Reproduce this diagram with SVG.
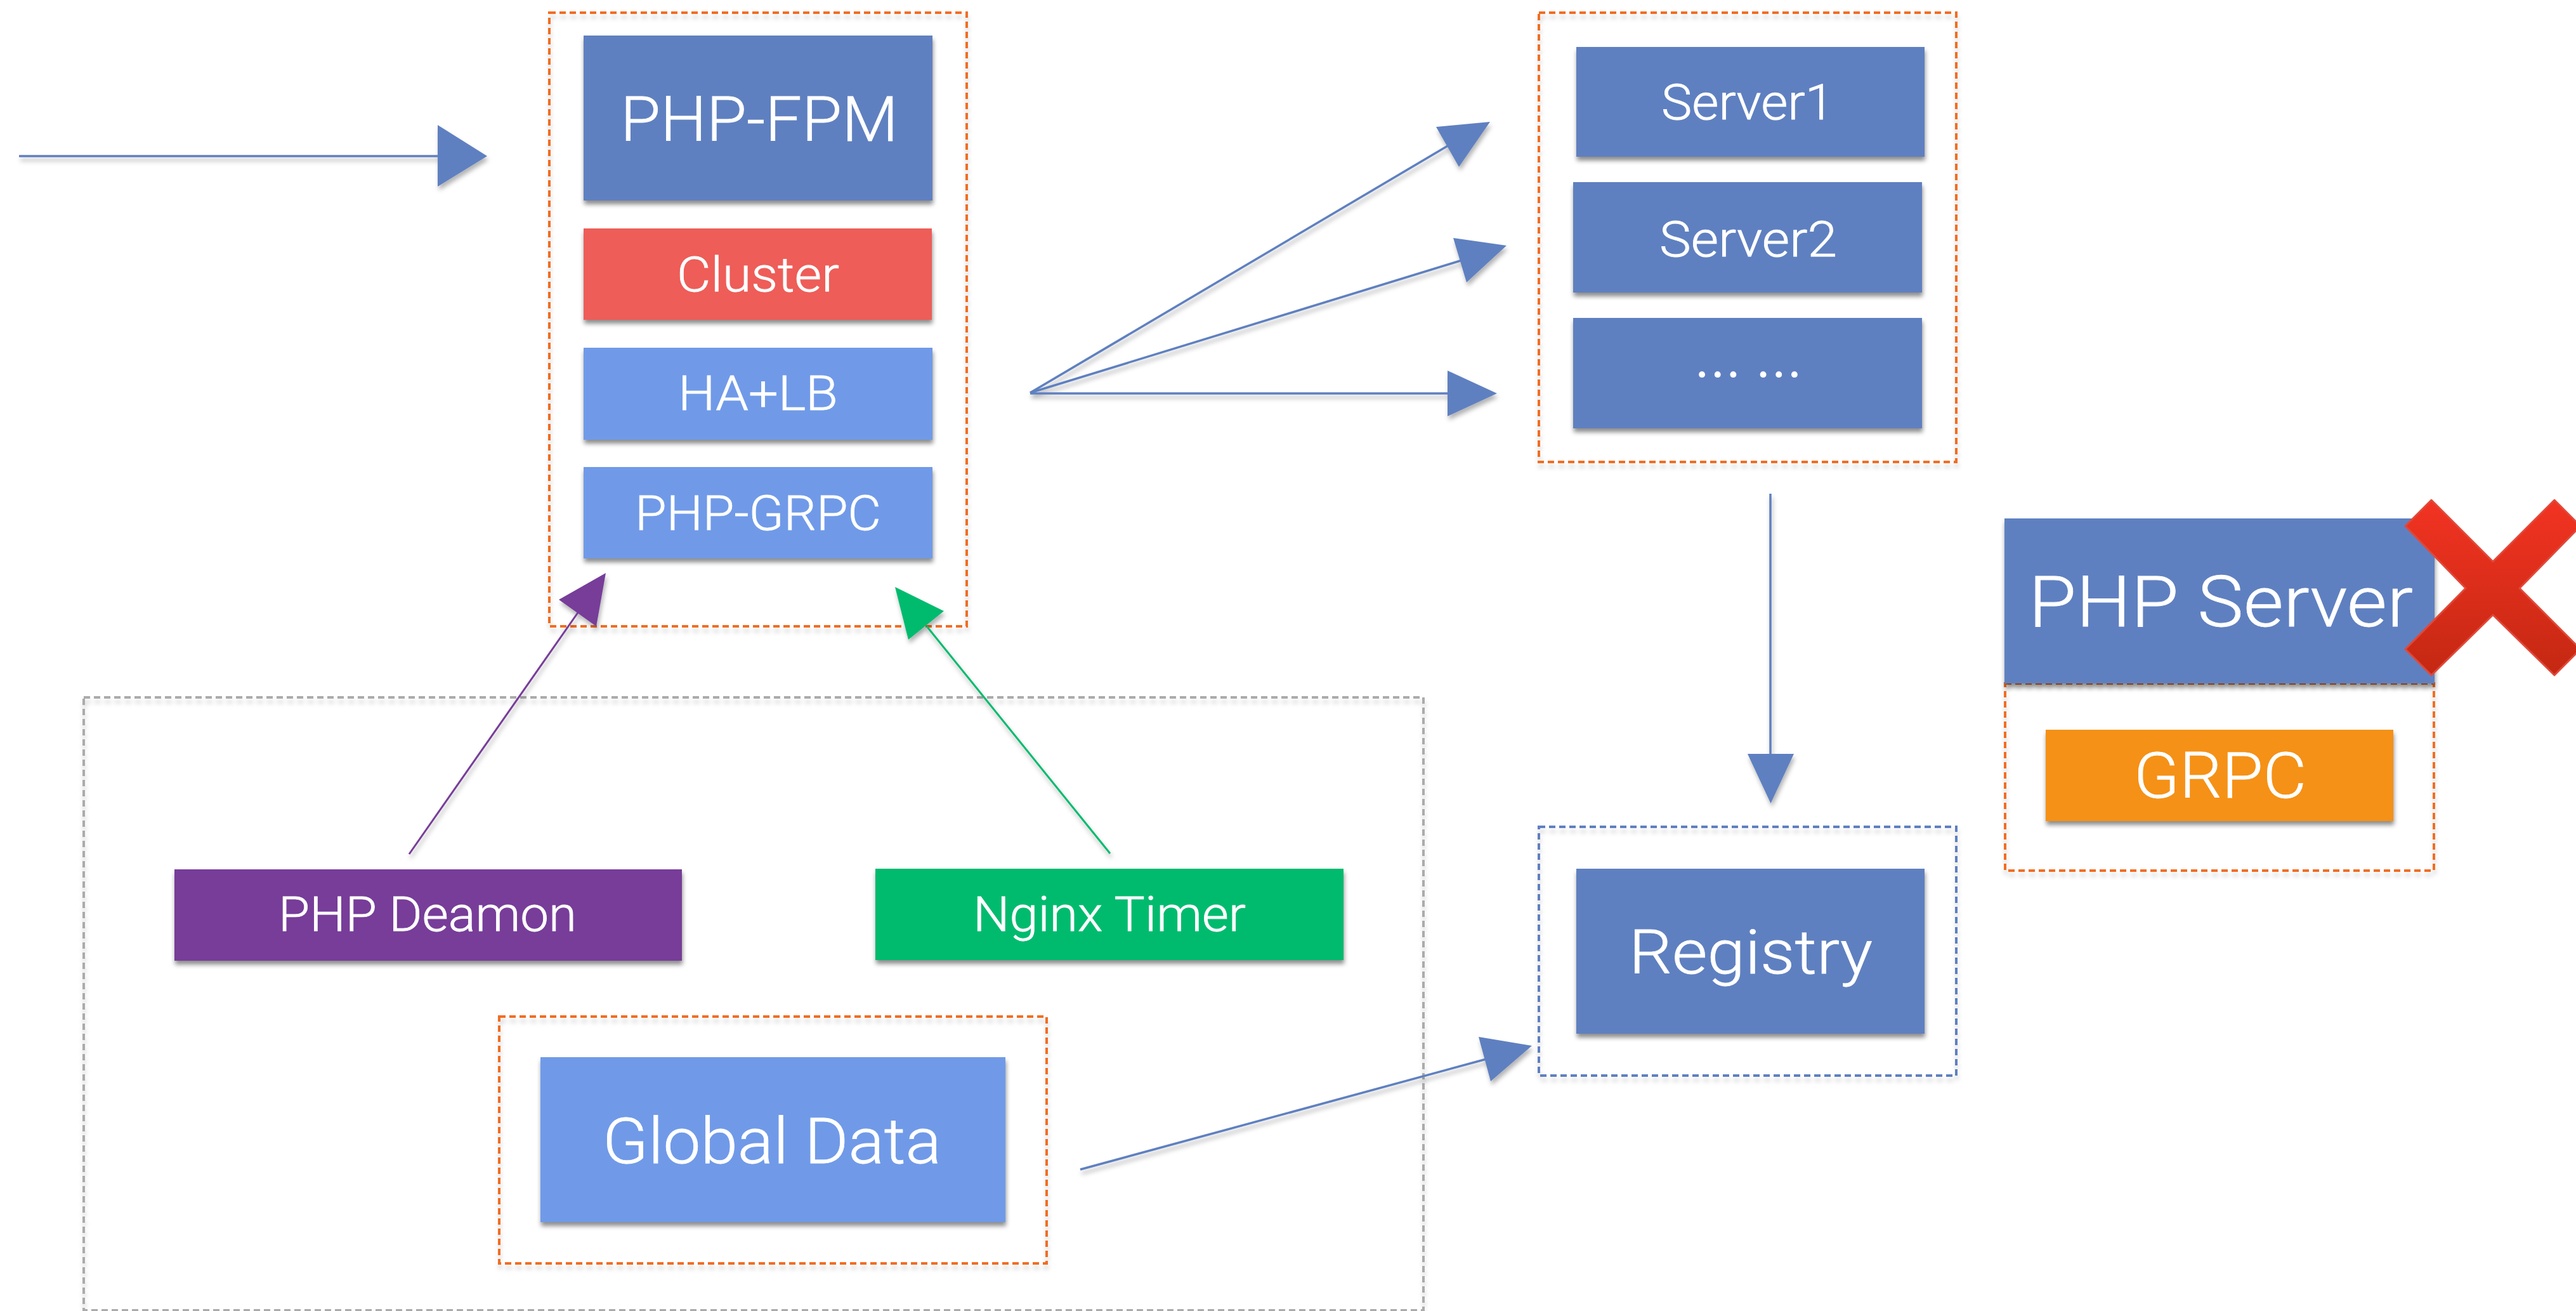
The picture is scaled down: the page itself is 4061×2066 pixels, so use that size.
<svg xmlns="http://www.w3.org/2000/svg" width="4061" height="2066" viewBox="0 0 4061 2066">
<defs>
<style>
text{font-family:"Roboto","Liberation Sans",sans-serif;font-weight:300;fill:#fff;stroke:#fff;stroke-width:.8;text-anchor:middle}
.box{filter:url(#sh)}
.dash{fill:none;stroke-width:4;stroke-dasharray:10 6;filter:url(#shd)}
.o{stroke:#F26D21}.g{stroke:#ABABAB}.b{stroke:#5F80C0}
.blue{fill:#5F80C0}.light{fill:#709AE8}
.ln{stroke:#5F80C0;stroke-width:3.5;fill:none}
.ah{fill:#5F80C0}
</style>
<filter id="sh" x="-10%" y="-10%" width="120%" height="125%"><feDropShadow dx="1" dy="6" stdDeviation="3.5" flood-color="#000" flood-opacity=".45"/></filter>
<filter id="shd" x="-5%" y="-5%" width="110%" height="110%"><feDropShadow dx="1" dy="7" stdDeviation="3.5" flood-color="#000" flood-opacity=".18"/></filter>
<filter id="shl" filterUnits="userSpaceOnUse" x="0" y="0" width="4061" height="2066"><feDropShadow dx="2" dy="6" stdDeviation="3.5" flood-color="#000" flood-opacity=".3"/></filter>
<linearGradient id="xg" x1="0" y1="0" x2="0" y2="1"><stop offset="0" stop-color="#F23322"/><stop offset="1" stop-color="#C42812"/></linearGradient>
</defs>
<rect width="4061" height="2066" fill="#fff"/>

<g id="group-services"><rect class="dash g" x="132" y="1099" width="2112" height="966"/></g>
<g id="group-fpm"><rect class="dash o" x="866" y="20" width="658" height="967"/></g>
<g id="group-servers"><rect class="dash o" x="2426" y="20" width="658" height="708"/></g>
<g id="group-registry"><rect class="dash b" x="2426" y="1303" width="658" height="392"/></g>
<g id="group-global"><rect class="dash o" x="787" y="1602" width="863" height="389"/></g>
<g id="group-phpserver"><rect class="dash o" x="3161" y="1077" width="676" height="295"/></g>

<g id="php-fpm"><rect class="box blue" x="920" y="56" width="550" height="260"/><text x="1197" y="222" font-size="98" textLength="438" lengthAdjust="spacingAndGlyphs">PHP-FPM</text></g>
<g id="cluster"><rect class="box" fill="#EE5D59" x="920" y="360" width="549" height="144"/><text x="1195" y="459" font-size="76" textLength="256" lengthAdjust="spacingAndGlyphs">Cluster</text></g>
<g id="ha-lb"><rect class="box light" x="920" y="548" width="550" height="145"/><text x="1195" y="646" font-size="76" textLength="252" lengthAdjust="spacingAndGlyphs">HA+LB</text></g>
<g id="php-grpc"><rect class="box light" x="920" y="736" width="550" height="144"/><text x="1195" y="835" font-size="76" textLength="388" lengthAdjust="spacingAndGlyphs">PHP-GRPC</text></g>

<g id="server1"><rect class="box blue" x="2485" y="74" width="549" height="173"/><text x="2755" y="188" font-size="78" textLength="272" lengthAdjust="spacingAndGlyphs">Server1</text></g>
<g id="server2"><rect class="box blue" x="2480" y="287" width="550" height="174"/><text x="2756" y="404" font-size="78" textLength="280" lengthAdjust="spacingAndGlyphs">Server2</text></g>
<g id="server-more"><rect class="box blue" x="2480" y="501" width="550" height="174"/><text x="2756" y="618" font-size="74" style="font-family:'Noto Sans CJK JP',sans-serif;stroke-width:1.5" word-spacing="6">… …</text></g>

<g id="php-server"><rect class="box blue" x="3160" y="817" width="678" height="260"/><text x="3501" y="987" font-size="112" textLength="606" lengthAdjust="spacingAndGlyphs">PHP Server</text></g>
<g id="grpc"><rect class="box" fill="#F59119" x="3225" y="1150" width="548" height="144"/><text x="3500" y="1257" font-size="100" textLength="272" lengthAdjust="spacingAndGlyphs">GRPC</text></g>
<g id="cross"><polygon points="3833,788 3930,885 4027,788 4068,829 3972,927 4068,1023 4027,1064 3930,969 3833,1064 3792,1023 3887,927 3792,829" fill="url(#xg)" stroke="#E0483A" stroke-width="3" stroke-linejoin="round"/></g>

<g id="php-deamon"><rect class="box" fill="#773E99" x="275" y="1370" width="800" height="144"/><text x="674" y="1467" font-size="76" textLength="470" lengthAdjust="spacingAndGlyphs">PHP Deamon</text></g>
<g id="nginx-timer"><rect class="box" fill="#03BB6E" x="1380" y="1369" width="738" height="144"/><text x="1749" y="1467" font-size="76" textLength="430" lengthAdjust="spacingAndGlyphs">Nginx Timer</text></g>
<g id="global-data"><rect class="box light" x="852" y="1666" width="733" height="260"/><text x="1217" y="1833" font-size="100" textLength="534" lengthAdjust="spacingAndGlyphs">Global Data</text></g>
<g id="registry"><rect class="box blue" x="2485" y="1369" width="549" height="260"/><text x="2760" y="1534" font-size="97" textLength="384" lengthAdjust="spacingAndGlyphs">Registry</text></g>

<g id="connectors" filter="url(#shl)">
<line class="ln" x1="30" y1="246" x2="692" y2="246"/><polygon class="ah" points="690,197 768,246 690,294"/>
<line class="ln" x1="1624" y1="619" x2="2282" y2="230"/><polygon class="ah" points="2264,200 2349,192 2300,263"/>
<line class="ln" x1="1624" y1="619" x2="2305" y2="410"/><polygon class="ah" points="2291,375 2375,387 2312,445"/>
<line class="ln" x1="1624" y1="620" x2="2284" y2="620"/><polygon class="ah" points="2282,584 2360,620 2282,656"/>
<line class="ln" x1="2791" y1="778" x2="2791" y2="1190"/><polygon class="ah" points="2755,1188 2828,1188 2791.5,1266"/>
<line class="ln" x1="1703" y1="1843" x2="2343" y2="1669"/><polygon class="ah" points="2331,1634 2415,1648 2350,1704"/>
<line stroke="#773E99" stroke-width="3" x1="645" y1="1346" x2="912" y2="964"/><polygon fill="#773E99" points="955,903 881,945 940,987"/>
<line stroke="#03BB6E" stroke-width="3" x1="1750" y1="1345" x2="1461" y2="987"/><polygon fill="#03BB6E" points="1411,925 1488,963 1432,1008"/>
</g>
</svg>
